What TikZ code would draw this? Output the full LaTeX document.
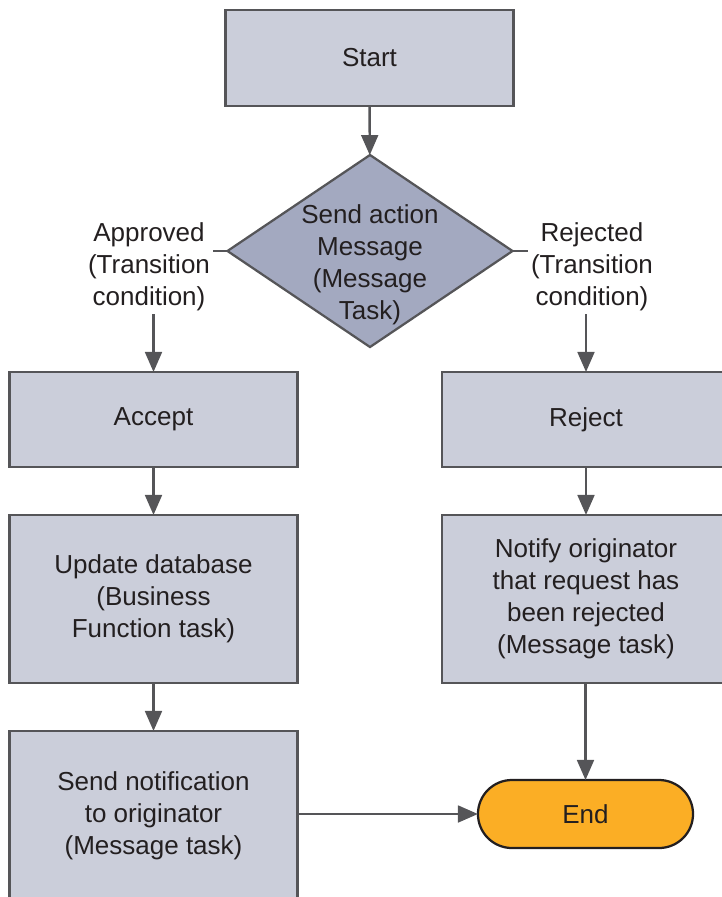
\documentclass[tikz,border=0pt]{standalone}
\usepackage{fontspec}
\setmainfont{Liberation Sans}
\usetikzlibrary{arrows.meta,shapes.geometric}
\definecolor{boxgray}{RGB}{203,206,218}
\definecolor{diagray}{RGB}{163,169,192}
\definecolor{edgegray}{RGB}{85,85,88}
\definecolor{endorange}{RGB}{251,174,37}
\definecolor{inkdark}{RGB}{35,31,32}

\begin{document}
\begin{tikzpicture}[x=0.025cm,y=-0.025cm,font=\fontsize{18.5pt}{22.7pt}\selectfont,text=inkdark]
\tikzstyle{block} = [rectangle, draw=edgegray, line width=1.6pt, fill=boxgray,
minimum width=7.2cm, align=center, inner sep=0pt, outer sep=0pt]
\tikzstyle{decision} = [diamond, draw=edgegray, line width=1.6pt, fill=diagray,
minimum width=7.125cm, minimum height=4.8cm, inner sep=0pt, outer sep=0pt]
\tikzstyle{cond} = [align=center, inner sep=2pt]
\tikzstyle{terminal} = [rectangle, rounded corners=0.85cm, draw=inkdark, line width=1.6pt,
fill=endorange, minimum width=5.375cm, minimum height=1.7cm, outer sep=0pt]
\tikzstyle{line} = [draw=edgegray, line width=1.7pt, -{Triangle[length=0.5cm,width=0.42cm]}]
\tikzstyle{stub} = [draw=edgegray, line width=1.7pt]

\useasboundingbox (0,0) rectangle (722,897);
\clip (0,0) rectangle (722,897);

% top
\node [block, minimum height=2.4cm] (start) at (369.5,58) {Start};
\node [decision] (decide) at (370,251) {};
\node [align=center] (decidetext) at (370,265) {Send action\\Message\\(Message\\Task)};

% conditions
\node [cond] (approved) at (149,267) {Approved\\(Transition\\condition)};
\node [cond] (rejected) at (592,267) {Rejected\\(Transition\\condition)};
\coordinate (lstub) at (213,251);
\coordinate (rstub) at (528,251);

% left column
\node [block, minimum height=2.375cm] (accept) at (153.5,419.5) {Accept};
\node [block, minimum height=4.2cm] (update) at (153.5,599) {Update database\\(Business\\Function task)};
\node [block, minimum height=4.225cm] (sendnote) at (153.5,815.5) {Send notification\\to originator\\(Message task)};

% right column
\node [block, minimum height=2.375cm] (reject) at (586,419.5) {Reject};
\node [block, minimum height=4.2cm] (notify) at (586,599) {Notify originator\\that request has\\been rejected\\(Message task)};
\node [terminal] (end) at (585.5,814) {End};

\path [line] (start) -- (decide);
\path [stub] (decide.west) -- (lstub);
\path [stub] (decide.east) -- (rstub);
\path [line] (accept.north |- approved.south) -- (accept.north);
\path [line] (reject.north |- rejected.south) -- (reject.north);
\path [line] (accept) -- (update);
\path [line] (update) -- (sendnote);
\path [line] (reject) -- (notify);
\path [line] (notify.south -| end.north) -- (end.north);
\path [line] (sendnote.east |- end.west) -- (end.west);

\end{tikzpicture}
\end{document}
